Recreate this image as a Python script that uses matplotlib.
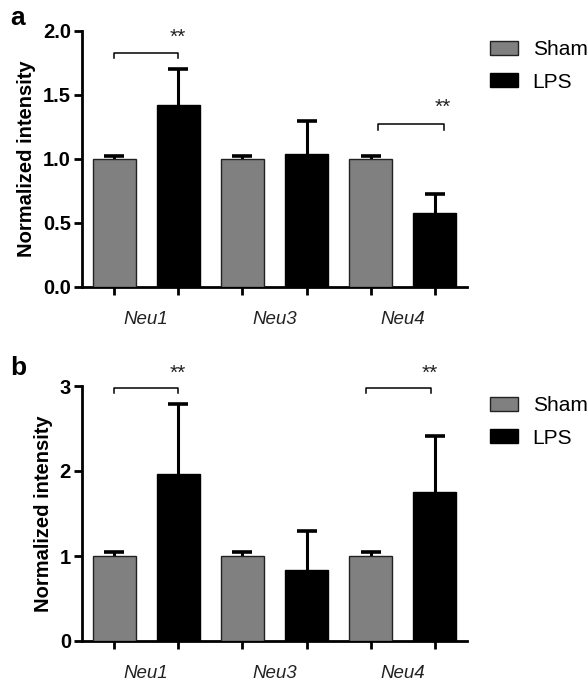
import matplotlib
matplotlib.use("Agg")
import matplotlib.pyplot as plt
import numpy as np

plt.rcParams['font.family'] = ['Liberation Sans', 'DejaVu Sans']

genes = ["Neu1", "Neu3", "Neu4"]
series = ["Sham", "LPS"]

a_sham = [1.00, 1.00, 1.00]
a_sham_err = [0.02, 0.02, 0.02]
a_lps = [1.42, 1.04, 0.58]
a_lps_err = [0.28, 0.26, 0.15]

b_sham = [1.00, 1.00, 1.00]
b_sham_err = [0.05, 0.05, 0.05]
b_lps = [1.96, 0.83, 1.75]
b_lps_err = [0.83, 0.47, 0.66]

a_yticks = [0.0, 0.5, 1.0, 1.5, 2.0]
a_yticklabels = ["0.0", "0.5", "1.0", "1.5", "2.0"]
b_yticks = [0, 1, 2, 3]
b_yticklabels = ["0", "1", "2", "3"]

W, H = 588, 684
fig = plt.figure(figsize=(W / 100, H / 100), dpi=100)
fig.patch.set_facecolor('white')

def draw_panel(ax, sham, sham_err, lps, lps_err, yticks, yticklabels, ymax,
               brackets, legend_top_px, letter, letter_y_px):
    n = len(genes)
    xs_sham = np.arange(n) * 2
    xs_lps = np.arange(n) * 2 + 1
    bw = 0.67
    ax.bar(xs_sham, sham, width=bw, color='#808080', edgecolor='#222222',
           linewidth=1.0, label=series[0], zorder=3)
    ax.bar(xs_lps, lps, width=bw, color='black', edgecolor='black',
           linewidth=1.0, label=series[1], zorder=3)
    for xs, vals, errs in ((xs_sham, sham, sham_err), (xs_lps, lps, lps_err)):
        ax.errorbar(xs, vals, yerr=errs, fmt='none',
                    ecolor='black', elinewidth=2.2, capsize=7.5,
                    capthick=2.6, zorder=2)
    ax.set_xlim(-0.5, 2 * n - 0.5)
    ax.set_ylim(0, ymax)
    ax.set_yticks(yticks)
    ax.set_yticklabels(yticklabels, fontsize=14.5, fontweight='bold')
    ax.set_xticks(np.concatenate([xs_sham, xs_lps]))
    ax.set_xticklabels([])
    ax.set_xticks(np.arange(n) * 2 + 0.5, minor=True)
    ax.set_xticklabels(genes, minor=True, fontsize=13.5, style='italic',
                       color='#222222')
    ax.tick_params(axis='x', which='minor', length=0, pad=17)
    ax.tick_params(axis='x', which='major', length=6, width=2, direction='out')
    ax.tick_params(axis='y', length=6, width=2, direction='out', pad=2)
    for s in ('top', 'right'):
        ax.spines[s].set_visible(False)
    for s in ('left', 'bottom'):
        ax.spines[s].set_linewidth(2.0)
    ax.set_ylabel("Normalized intensity", fontsize=14.5, fontweight='bold',
                  labelpad=5)
    for (x0, x1, yb, tick, ys, xs_) in brackets:
        ax.plot([x0, x0, x1, x1], [yb - tick, yb, yb, yb - tick],
                color='black', lw=1.1, clip_on=False, zorder=4)
        ax.text(xs_, ys, "**", ha='center', va='center', fontsize=15,
                color='#222222')
    ax.legend(loc='upper left',
              bbox_to_anchor=(490 / W, 1 - legend_top_px / H),
              bbox_transform=fig.transFigure, frameon=False, fontsize=15,
              handlelength=1.35, handleheight=0.68, handletextpad=0.7,
              labelspacing=0.65, borderpad=0, borderaxespad=0)
    fig.text(10 / W, 1 - letter_y_px / H, letter, fontsize=19,
             fontweight='bold', ha='left', va='center')

ax_a = fig.add_axes([82 / W, 1 - 287 / H, (467 - 82) / W, (287 - 31) / H])
draw_panel(ax_a, a_sham, a_sham_err, a_lps, a_lps_err, a_yticks,
           a_yticklabels, 2.0,
           [(0, 1, 1.83, 0.04, 1.95, 1.0), (4.12, 5.14, 1.27, 0.04, 1.40, 5.12)],
           40, "a", 18)

ax_b = fig.add_axes([82 / W, 1 - 641 / H, (467 - 82) / W, (641 - 386) / H])
draw_panel(ax_b, b_sham, b_sham_err, b_lps, b_lps_err, b_yticks,
           b_yticklabels, 3.0,
           [(0, 1, 2.98, 0.06, 3.15, 1.0), (3.92, 4.94, 2.98, 0.06, 3.15, 4.92)],
           396, "b", 368)

fig.savefig("out.png", dpi=100, facecolor='white')
